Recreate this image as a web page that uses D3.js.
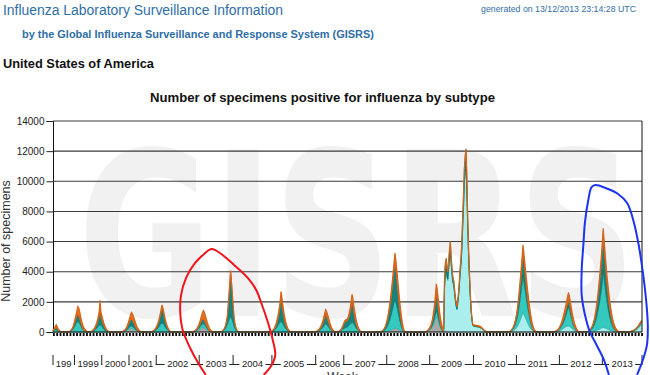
<!DOCTYPE html>
<html>
<head>
<meta charset="utf-8">
<script src="https://cdn.jsdelivr.net/npm/d3@7"></script>
<style>
  body { margin: 0; background: #fff; }
  svg { display: block; font-family: Arial, "Liberation Sans", sans-serif; }
</style>
</head>
<body>
<div id="wrapper"></div>
<script>
// x axis: year labels and how many reported weeks each year has on the axis
const years = ["199", "1999", "2000", "2001", "2002", "2003", "2004", "2005",
  "2006", "2007", "2008", "2009", "2010", "2011", "2012", "2013"]
const weeksPerYear = [26, 33, 33, 33, 52, 41, 47, 53, 34, 52, 52, 53, 52, 52, 52, 48]
const yTicks = [0, 2000, 4000, 6000, 8000, 10000, 12000, 14000]

// first week index of each season block
const seasonStart = [0, 18, 44, 82, 118, 168, 202, 262, 316, 344, 396, 450, 473, 552, 606, 646, 698]

// weekly counts per subtype, one list per season block (null = none)
const h1 = [
  null, null, null,
  [0,5,10,15,25,40,60,85,115,150,190,225,245,250,235,205,170,135,100,70,45,30,15,8,3,0],
  null,
  [0,5,10,20,30,45,65,90,120,155,190,230,265,290,300,280,240,195,150,110,75,45,25,12,5,0],
  null, null, null, null,
  [0,0,5,5,10,15,20,30,40,55,70,90,110,135,160,185,210,235,250,240,225,205,180,150,120,90,60,35,15,5],
  [0,10,20,35,55,80,115,160,220,300,400,530,680,850,1000,920,760,580,400,260,160,90,40,10],
  [40,100,80,60,40,30,20,15,10,10,5,5],
  null, null, null, null
]
const pdm = [
  null, null, null, null, null, null, null, null, null, null, null, null,
  [60,2770,3580,4000,3530,3390,4150,4820,5200,4460,3780,3280,3100,2610,2100,1700,1490,1910,2410,3130,3940,4550,5560,6960,8360,9920,10620,10770,9380,6970,5150,3720,2510,1480,880,470,380,370,360,350,340,330,320,300,280,255,215,175,120,70,40,25],
  [0,10,20,35,55,80,110,150,200,270,350,450,570,700,840,980,1140,1300,1180,1050,920,790,660,540,430,330,240,170,110,65,35,15,5,0],
  [0,5,10,15,25,35,50,70,95,125,160,200,240,280,320,350,375,390,400,380,340,290,240,190,145,105,70,45,25,10],
  [0,5,5,10,10,15,20,25,35,45,60,75,95,115,140,165,195,225,260,285,300,290,270,245,220,195,170,145,120,100,80,60,45,30,20,15,10,5,0,0,0,0],
  [10,15,20,30,40,55,75,100,130,170,220,280,350,420,480]
]
const h3 = [
  [60,90,120,150,150,120,80,50,30,15,5,0],
  [0,10,20,40,70,110,170,250,350,460,570,660,700,680,600,480,360,260,180,120,80,50,30,15,5,0],
  [0,10,20,35,55,80,110,150,200,260,330,400,450,480,440,380,300,220,160,110,70,45,25,15,5,0],
  [0,3,5,10,15,25,35,50,70,90,110,130,145,150,140,125,105,85,65,45,30,20,10,5,2,0],
  [0,10,20,35,55,80,110,150,200,260,330,410,490,560,600,570,500,410,320,240,170,110,70,40,20,5],
  [0,5,10,15,25,35,50,70,95,125,160,200,235,250,250,235,205,170,130,95,65,40,25,12,5,0],
  [0,10,20,40,70,110,170,250,360,500,660,820,940,1000,930,800,620,430,280,170,100,55,25,10],
  [0,10,20,35,55,85,125,175,240,320,410,510,600,670,700,660,580,480,380,290,210,145,95,55,25,10],
  [0,10,15,25,40,60,85,115,155,205,260,330,410,490,550,520,460,380,300,220,155,100,60,35,15,5],
  [0,10,20,40,70,110,150,190,230,260,280,300,330,370,420,480,540,600,640,610,540,450,360,270,190,125,75,40,20,5],
  [0,10,20,35,55,85,130,185,260,355,470,600,755,925,1115,1325,1555,1780,1900,1750,1530,1290,1050,815,600,420,260,150,60,10],
  [0,5,10,15,25,35,50,70,95,130,170,220,280,350,400,370,310,240,170,110,65,35,15,5],
  [40,150,150,140,120,100,90,80,70,60,50,40,35,30,25,20,20,20,20,25,25,30,30,35,35,40,40,40,35,30,25,20,15,15,10,10,10,10,10,10,10,10,10,10,10,10,10,10,5,5,5,5],
  [0,15,30,50,85,125,180,250,350,475,620,810,1050,1300,1580,1850,2140,2450,2200,1950,1700,1450,1200,980,790,600,440,300,190,110,55,25,10,5],
  [0,10,20,30,45,65,90,120,160,210,270,340,420,510,620,760,920,1100,1300,1150,950,760,590,440,320,225,150,95,55,25],
  [0,15,30,50,75,110,155,215,295,400,530,690,880,1100,1360,1640,1950,2280,2640,3080,3800,3350,2900,2460,2060,1700,1380,1100,860,650,490,360,260,180,120,75,45,25,10,5,0,0],
  [10,15,20,25,30,40,50,60,70,80,90,100,110,120,130]
]
const notSubtyped = [
  [40,60,100,140,180,130,80,40,20,10,0,0],
  [0,5,10,20,40,70,110,160,230,300,370,430,450,420,360,280,200,140,90,60,35,20,10,5,0,0],
  [0,5,10,20,35,60,90,130,190,260,350,480,700,1300,600,480,380,290,210,150,100,65,40,20,10,0],
  [0,5,10,20,30,50,75,110,160,220,290,360,420,450,420,370,300,230,170,120,80,50,30,15,5,0],
  [0,5,10,20,35,55,85,125,180,250,340,460,620,820,1050,880,700,530,390,280,190,120,75,40,20,5],
  [0,5,10,15,25,40,60,85,115,150,190,235,275,300,300,270,225,175,130,90,60,35,20,10,5,0],
  [0,5,10,20,40,70,120,200,330,520,1000,1530,2200,3000,2390,1725,1115,615,330,170,85,40,20,5],
  [0,5,10,20,35,60,95,145,215,310,430,580,780,1050,1600,1300,950,680,470,320,210,135,85,45,20,5],
  [0,5,10,15,25,40,60,90,130,180,240,320,410,500,600,540,450,350,260,180,120,75,45,25,10,5],
  [0,5,10,20,40,70,120,200,300,400,450,420,400,440,520,650,850,1100,1400,1150,850,600,420,280,180,110,65,35,15,5],
  [0,15,25,45,75,110,160,230,325,440,580,745,930,1140,1375,1630,1915,2195,2500,2220,1905,1575,1260,955,690,460,280,155,65,15],
  [0,5,10,20,30,50,75,110,160,230,330,470,650,900,1200,1000,750,520,340,210,120,60,25,10],
  [100,800,700,650,500,450,500,520,700,450,380,330,300,250,200,170,150,180,220,280,350,400,500,650,800,900,1000,1300,900,650,480,350,240,150,90,60,50,50,50,50,50,45,45,40,40,35,30,25,20,15,10,10],
  [0,10,20,40,60,85,120,165,225,305,400,520,660,820,990,1160,1340,1600,1400,1200,1010,830,660,510,380,270,180,110,70,40,20,10,5,0],
  [0,5,10,15,25,35,50,70,95,125,160,200,240,285,330,380,430,470,500,450,380,310,245,185,135,95,65,40,20,10],
  [0,10,20,30,50,75,105,150,205,280,370,485,620,780,950,1145,1355,1590,1840,2125,2300,2040,1790,1545,1320,1110,920,750,600,470,350,250,175,120,80,50,30,15,10,5,5,0],
  [5,5,10,10,15,20,25,30,40,50,55,60,65,70,80]
]
const fluB = [
  [20,40,60,100,150,120,90,60,40,25,10,5],
  [0,5,10,15,25,40,60,90,130,180,250,350,550,520,470,400,330,260,200,150,110,80,55,35,20,10],
  [0,5,10,15,20,30,45,65,90,120,160,200,260,320,300,260,220,180,140,110,80,55,35,20,10,5],
  [0,5,10,15,25,35,50,70,100,140,190,260,350,450,430,400,360,310,260,210,160,120,85,55,30,15],
  [0,5,10,15,20,30,40,55,70,90,110,130,140,150,150,150,145,135,120,100,80,60,40,25,15,5],
  [0,5,10,15,25,35,50,70,100,140,190,260,350,460,580,560,510,450,380,310,240,180,130,85,50,25],
  [0,0,5,5,10,10,15,20,25,30,40,50,60,80,80,75,65,55,45,35,25,15,10,5],
  [0,5,10,15,25,35,50,70,95,125,160,200,250,310,390,380,360,330,290,250,200,150,105,70,40,20],
  [0,5,10,15,20,30,40,55,75,100,130,170,220,280,330,330,320,300,270,230,185,140,100,65,35,15],
  [0,5,10,15,20,30,40,50,60,70,80,90,110,140,180,230,290,360,460,450,420,380,330,270,210,155,105,65,35,15],
  [0,5,10,15,20,30,40,55,75,100,130,165,205,250,300,360,420,490,580,590,590,580,560,530,490,430,350,260,160,70],
  [0,5,10,15,25,35,50,70,95,125,165,215,290,400,600,590,560,510,440,360,280,200,130,70],
  [60,80,60,50,40,30,25,20,20,15,15,10,10,10,10,10,10,10,15,15,20,20,25,30,30,35,35,40,35,30,25,25,20,20,20,20,40,40,40,40,40,45,45,50,50,50,45,40,35,30,25,20],
  [0,5,10,15,20,30,40,55,75,100,130,170,220,280,340,410,480,430,470,500,520,530,530,520,500,450,390,320,250,185,130,80,40,15],
  [0,5,10,15,20,30,40,55,75,100,130,165,205,250,295,340,380,405,420,420,410,390,360,320,275,230,185,140,100,65],
  [0,0,5,10,15,20,30,40,55,75,100,130,165,205,250,300,350,405,460,510,480,520,540,550,550,545,530,505,470,430,380,330,280,230,180,140,105,75,50,30,15,10],
  [5,5,5,10,10,10,15,15,20,20,25,25,30,30,30]
]

// hand drawn marks on the screenshot, in [week index, specimens]
const redLoop = [[185,-2850],[175,-1990],[166,-1060],[157,130],[154,1330],[155,2450],[161,3580],
  [172,4580],[183,5180],[192,5500],[202,5240],[218,4510],[236,3580],[246,2790],[253,1790],
  [260,660],[266,-530],[269,-1530],[264,-2260],[255,-2850]]
const blueLoop = [[673,-2850],[667,-1860],[658,-860],[650,0],[644,1130],[640,2450],[640,4110],
  [642,5770],[644,7300],[648,8760],[652,9620],[657,9750],[669,9550],[684,9160],[695,8560],
  [703,7300],[709,5770],[714,3980],[718,2120],[720,460],[719,-860],[714,-1860],[707,-2850]]

const keys = ["h1", "pdm", "h3", "ns", "b"]
const fills = { h1: "#a9a9a9", pdm: "#aaeeee", h3: "#35c8bf", ns: "#13837d", b: "#e2711d" }
const strokes = { h1: "#8a8a8a", pdm: "#7fd6d6", h3: "#22a9a0", ns: "#0b6660", b: "#d5651a" }
const strokeWidths = { h1: 0.6, pdm: 0.6, h3: 0.6, ns: 0.6, b: 1.2 }

const nWeeks = d3.sum(weeksPerYear)
const weeks = d3.range(nWeeks).map(i => ({ i, h1: 0, pdm: 0, h3: 0, ns: 0, b: 0 }))
const bySubtype = { h1: h1, pdm: pdm, h3: h3, ns: notSubtyped, b: fluB }
keys.forEach(key => {
  bySubtype[key].forEach((vals, s) => {
    if (!vals) return
    vals.forEach((v, j) => {
      const w = weeks[seasonStart[s] + j]
      if (w) w[key] += v
    })
  })
})

const yearEdges = [0]
weeksPerYear.forEach(n => yearEdges.push(yearEdges[yearEdges.length - 1] + n))

let dimensions = {
  width: 650,
  height: 375,
  margin: { top: 121, right: 8, bottom: 43, left: 53 }
}
dimensions.boundedWidth = dimensions.width - dimensions.margin.left - dimensions.margin.right
dimensions.boundedHeight = dimensions.height - dimensions.margin.top - dimensions.margin.bottom

const svg = d3.select("#wrapper")
  .append("svg")
    .attr("width", dimensions.width)
    .attr("height", dimensions.height)

svg.append("rect").attr("width", 650).attr("height", 375).attr("fill", "#fff")

// page headers
const blue = "#2f6ea6"
const addText = (x, y, txt, size, weight, color, len) => svg.append("text")
  .attr("x", x).attr("y", y)
  .attr("font-size", size).attr("font-weight", weight)
  .attr("fill", color)
  .attr("textLength", len).attr("lengthAdjust", "spacingAndGlyphs")
  .text(txt)

addText(3, 15, "Influenza Laboratory Surveillance Information", 14, "normal", blue, 280)
addText(22, 37.5, "by the Global Influenza Surveillance and Response System (GISRS)", 11.5, "bold", blue, 352)
addText(481, 12, "generated on 13/12/2013 23:14:28 UTC", 9, "normal", blue, 155)
addText(3, 68, "United States of America", 13, "bold", "#111", 151)
addText(150, 102, "Number of specimens positive for influenza by subtype", 13, "bold", "#111", 345)

const bounds = svg.append("g")
  .attr("transform", `translate(${dimensions.margin.left}, ${dimensions.margin.top})`)

const xScale = d3.scaleLinear()
  .domain([0, nWeeks])
  .range([0, dimensions.boundedWidth])

const yScale = d3.scaleLinear()
  .domain([0, 14000])
  .range([dimensions.boundedHeight, 0])

// watermark
bounds.append("text")
  .attr("x", 25).attr("y", 195)
  .attr("font-size", 228).attr("font-weight", "bold")
  .attr("font-family", "'DejaVu Sans', sans-serif")
  .attr("fill", "#f1f1f1")
  .attr("textLength", 558).attr("lengthAdjust", "spacingAndGlyphs")
  .text("GISRS")

// grid + y axis
bounds.append("g").selectAll("line")
  .data(yTicks.filter(d => d > 0))
  .enter().append("line")
    .attr("x1", 0).attr("x2", dimensions.boundedWidth)
    .attr("y1", d => yScale(d)).attr("y2", d => yScale(d))
    .attr("stroke", "#3a3a3a").attr("stroke-width", 1.1)

const yAxis = bounds.append("g")
  .call(d3.axisLeft(yScale).tickValues(yTicks).tickSize(6.5).tickPadding(2).tickFormat(d3.format("d")))
yAxis.select(".domain").attr("stroke", "#111")
yAxis.selectAll(".tick line").attr("stroke", "#222")
yAxis.selectAll("text")
  .attr("font-size", 10).attr("fill", "#222")
  .attr("font-family", "Arial, 'Liberation Sans', sans-serif")

svg.append("text")
  .attr("transform", "translate(9.5, 241) rotate(-90)")
  .attr("text-anchor", "middle")
  .attr("font-size", 12.5).attr("fill", "#333")
  .text("Number of specimens")

// stacked areas
const stacked = d3.stack().keys(keys)(weeks)
const area = d3.area()
  .x(d => xScale(d.data.i))
  .y0(d => yScale(d[0]))
  .y1(d => yScale(d[1]))

bounds.append("g").selectAll("path")
  .data(stacked)
  .enter().append("path")
    .attr("d", area)
    .attr("fill", d => fills[d.key])
    .attr("stroke", d => strokes[d.key])
    .attr("stroke-width", d => strokeWidths[d.key])

// right frame
bounds.append("line")
  .attr("x1", dimensions.boundedWidth).attr("x2", dimensions.boundedWidth)
  .attr("y1", 0).attr("y2", dimensions.boundedHeight)
  .attr("stroke", "#111")

// baseline + week ticks band
bounds.append("line")
  .attr("x1", 0).attr("x2", dimensions.boundedWidth)
  .attr("y1", dimensions.boundedHeight).attr("y2", dimensions.boundedHeight)
  .attr("stroke", "#111")
bounds.append("g").selectAll("rect")
  .data(d3.range(0, nWeeks, 4))
  .enter().append("rect")
    .attr("x", d => xScale(d))
    .attr("y", dimensions.boundedHeight + 1)
    .attr("width", 1.8)
    .attr("height", 3)
    .attr("fill", "#000")

// year labels with bracket lines
const yearY = dimensions.boundedHeight + 34.5
const yearAxis = bounds.append("g")
years.forEach((label, k) => {
  const x0 = xScale(yearEdges[k])
  const x1 = xScale(yearEdges[k + 1])
  const t = yearAxis.append("text")
    .attr("x", (x0 + x1) / 2).attr("y", yearY)
    .attr("text-anchor", "middle")
    .attr("font-size", 9.5).attr("fill", "#222")
    .text(label)
  const w = t.node().getComputedTextLength()
  const lx = (x0 + x1) / 2 - w / 2 - 2.5
  const rx = (x0 + x1) / 2 + w / 2 + 2.5
  if (lx > x0 + 0.5) yearAxis.append("line").attr("x1", x0).attr("x2", lx)
    .attr("y1", yearY - 2).attr("y2", yearY - 2).attr("stroke", "#222")
  if (rx < x1 - 0.5) yearAxis.append("line").attr("x1", rx).attr("x2", x1)
    .attr("y1", yearY - 2).attr("y2", yearY - 2).attr("stroke", "#222")
})
yearAxis.selectAll("line.edge")
  .data(yearEdges)
  .enter().append("line")
    .attr("class", "edge")
    .attr("x1", d => xScale(d)).attr("x2", d => xScale(d))
    .attr("y1", yearY - 11.5).attr("y2", yearY - 1.5)
    .attr("stroke", "#222")

bounds.append("text")
  .attr("x", dimensions.boundedWidth / 2 - 5).attr("y", dimensions.boundedHeight + 49)
  .attr("text-anchor", "middle")
  .attr("font-size", 12).attr("fill", "#333")
  .text("Week")

// annotations
const loop = d3.line()
  .x(d => xScale(d[0]))
  .y(d => yScale(d[1]))
  .curve(d3.curveCatmullRom)

bounds.append("path")
  .attr("d", loop(redLoop))
  .attr("fill", "none").attr("stroke", "#f2141a").attr("stroke-width", 2)
bounds.append("path")
  .attr("d", loop(blueLoop))
  .attr("fill", "none").attr("stroke", "#1a34f0").attr("stroke-width", 2)
</script>
</body>
</html>
